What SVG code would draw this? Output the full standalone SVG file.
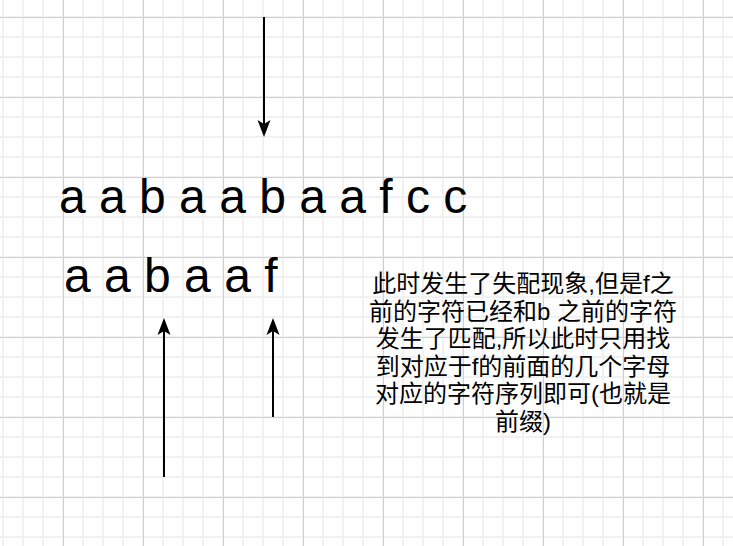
<svg xmlns="http://www.w3.org/2000/svg" width="733" height="546" viewBox="0 0 733 546">
<style>
.minor{stroke:#f1f1f1;stroke-width:2;fill:none}
.major{stroke:#d0d0d0;stroke-width:1;fill:none}
.seq{font-family:"Liberation Sans",Arial,sans-serif;font-size:48px;fill:#000}
.note{font-family:"Liberation Sans","Noto Sans CJK SC",sans-serif;font-size:24px;fill:#000;text-anchor:middle}
.conn{stroke:#000;stroke-width:2;fill:none}
</style>
<defs>
<marker id="arrow" markerUnits="userSpaceOnUse" markerWidth="20" markerHeight="16" viewBox="0 0 20 16" refX="7" refY="8" orient="auto" overflow="visible">
<path d="M17,8 L0,1.5 L4,8 L0,14.5 Z" fill="#000"/>
</marker>
</defs>
<rect width="733" height="546" fill="#fff"/>
<g id="grid">
<path class="minor" d="M3 0V546M23 0V546M43 0V546M63 0V546M83 0V546M103 0V546M123 0V546M143 0V546M163 0V546M183 0V546M203 0V546M223 0V546M243 0V546M263 0V546M283 0V546M303 0V546M323 0V546M343 0V546M363 0V546M383 0V546M403 0V546M423 0V546M443 0V546M463 0V546M483 0V546M503 0V546M523 0V546M543 0V546M563 0V546M583 0V546M603 0V546M623 0V546M643 0V546M663 0V546M683 0V546M703 0V546M723 0V546"/>
<path class="minor" d="M0 17H733M0 37H733M0 57H733M0 77H733M0 97H733M0 117H733M0 137H733M0 157H733M0 177H733M0 197H733M0 217H733M0 237H733M0 257H733M0 277H733M0 297H733M0 317H733M0 337H733M0 357H733M0 377H733M0 397H733M0 417H733M0 437H733M0 457H733M0 477H733M0 497H733M0 517H733M0 537H733"/>
<path class="major" d="M63.5 0V546M143.5 0V546M223.5 0V546M303.5 0V546M383.5 0V546M463.5 0V546M543.5 0V546M623.5 0V546M703.5 0V546"/>
<path class="major" d="M0 17.5H733M0 97.5H733M0 177.5H733M0 257.5H733M0 337.5H733M0 417.5H733M0 497.5H733"/>
</g>
<g id="connectors">
<line class="conn" x1="264" y1="17" x2="264" y2="127" marker-end="url(#arrow)"/>
<line class="conn" x1="164" y1="477" x2="164" y2="328" marker-end="url(#arrow)"/>
<line class="conn" x1="273" y1="417" x2="273" y2="328" marker-end="url(#arrow)"/>
</g>
<g id="text-string">
<text class="seq" x="59" y="213" xml:space="preserve">a a b a a b a a f c c</text>
</g>
<g id="pattern-string">
<text class="seq" x="64" y="292" xml:space="preserve">a a b a a f</text>
</g>
<g id="note">
<text class="note" x="523" y="292">此时发生了失配现象,但是f之</text>
<text class="note" x="523" y="319.5" xml:space="preserve">前的字符已经和b 之前的字符</text>
<text class="note" x="523" y="347">发生了匹配,所以此时只用找</text>
<text class="note" x="523" y="374.5">到对应于f的前面的几个字母</text>
<text class="note" x="523" y="402">对应的字符序列即可(也就是</text>
<text class="note" x="523" y="429.5">前缀)</text>
</g>
</svg>
